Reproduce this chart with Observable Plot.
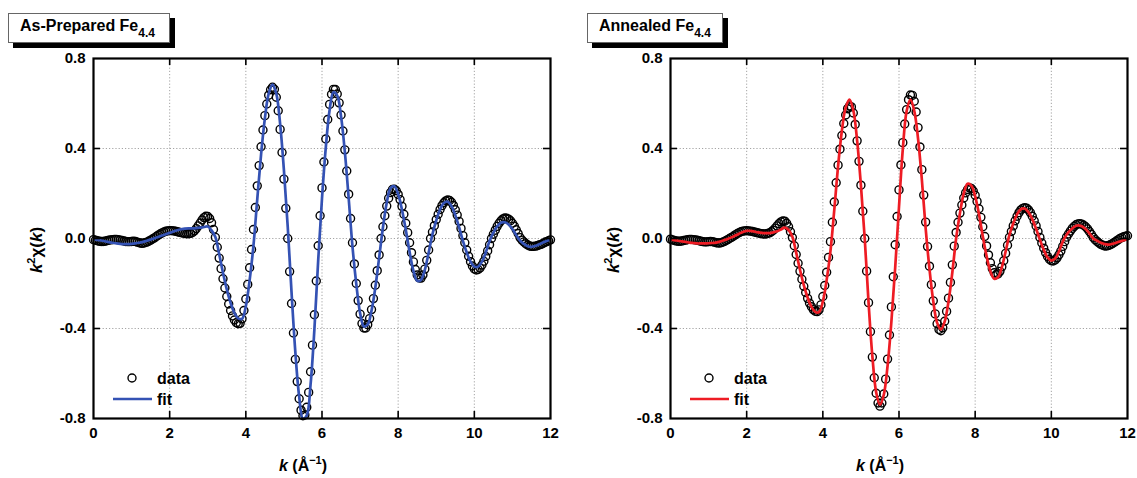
<!DOCTYPE html>
<html>
<head>
<meta charset="utf-8">
<script src="https://cdn.jsdelivr.net/npm/d3@7"></script>
<script src="https://cdn.jsdelivr.net/npm/@observablehq/plot@0.6"></script>
<style>
  body { margin: 0; background: #fff; }
  #fig { position: relative; width: 1137px; height: 478px; overflow: hidden; background: #fff;
         font-family: "Liberation Sans", Arial, sans-serif; font-weight: bold; color: #000; }
  .panel { position: absolute; top: 0; }
  .title { position: absolute; top: 13px; height: 30px; box-sizing: border-box; border: 1px solid #666;
           background: #fff; box-shadow: 5px 5px 0 #000; font-size: 16px; line-height: 24px; padding-left: 11px;
           white-space: nowrap; }
  .title sub { font-size: 12px; vertical-align: -6px; line-height: 0; }
  .ylab { position: absolute; font-size: 17px; white-space: nowrap; line-height: 17px;
          transform: translate(-50%, -50%) rotate(-90deg); }
  .ylab sup, .xlab sup { font-size: 11px; vertical-align: 7px; line-height: 0; }
  .xlab { position: absolute; top: 458px; font-size: 16px; line-height: 16px; white-space: nowrap;
          transform: translateX(-50%); }
  svg.overlay { position: absolute; left: 0; top: 0; }
</style>
</head>
<body>
<div id="fig"></div>
<script>
// ---------------- data ----------------
const panelTitles = ["As-Prepared Fe", "Annealed Fe"];
const titleSub = "4.4";
const legendLabels = ["data", "fit"];
const xTicks = [0, 2, 4, 6, 8, 10, 12];
const yTicks = [-0.8, -0.4, 0.0, 0.4, 0.8];
const xInner = [2, 4, 6, 8, 10];
const yInner = [-0.4, 0.0, 0.4];
const dataStep = 0.05;   // k-grid of the measured points (Å^-1)
const fitStep = 0.1;     // k-grid of the fit curve (Å^-1)

// As-prepared: measured k^2 chi(k), k = 0 ... 12 step 0.05
const prepData = [
  -0.005,-0.008,-0.010,-0.012,-0.013,-0.013,-0.012,-0.010,-0.008,-0.006,-0.005,-0.004,-0.004,-0.005,-0.007,-0.009,-0.011,-0.013,-0.014,-0.014,
  -0.013,-0.012,-0.013,-0.016,-0.019,-0.021,-0.021,-0.019,-0.016,-0.012,-0.007,-0.002,0.003,0.009,0.015,0.020,0.025,0.029,0.032,0.034,
  0.035,0.035,0.034,0.032,0.030,0.028,0.026,0.024,0.022,0.021,0.021,0.023,0.027,0.034,0.044,0.056,0.069,0.082,0.093,0.099,
  0.098,0.089,0.070,0.040,0.005,-0.039,-0.087,-0.134,-0.179,-0.220,-0.258,-0.291,-0.320,-0.344,-0.362,-0.374,-0.379,-0.377,-0.357,-0.320,
  -0.269,-0.204,-0.130,-0.049,0.040,0.138,0.234,0.324,0.408,0.482,0.546,0.598,0.637,0.661,0.672,0.663,0.628,0.568,0.485,0.382,
  0.264,0.134,0.000,-0.147,-0.289,-0.420,-0.537,-0.636,-0.712,-0.763,-0.788,-0.784,-0.750,-0.684,-0.592,-0.474,-0.339,-0.189,-0.032,0.101,
  0.225,0.340,0.442,0.529,0.596,0.641,0.663,0.662,0.642,0.603,0.549,0.478,0.394,0.300,0.197,0.089,-0.019,-0.113,-0.200,-0.276,
  -0.336,-0.378,-0.398,-0.398,-0.383,-0.356,-0.316,-0.267,-0.208,-0.143,-0.073,0.000,0.052,0.101,0.144,0.179,0.204,0.218,0.219,0.212,
  0.196,0.173,0.143,0.108,0.068,0.026,-0.019,-0.063,-0.104,-0.138,-0.162,-0.175,-0.176,-0.162,-0.136,-0.097,-0.051,0.000,0.029,0.057,
  0.084,0.108,0.129,0.146,0.159,0.167,0.171,0.169,0.161,0.147,0.128,0.104,0.076,0.045,0.013,-0.019,-0.051,-0.079,-0.103,-0.122,
  -0.135,-0.140,-0.138,-0.131,-0.118,-0.101,-0.080,-0.055,-0.028,0.000,0.019,0.037,0.054,0.068,0.079,0.087,0.091,0.090,0.086,0.079,
  0.068,0.055,0.039,0.022,0.004,-0.007,-0.015,-0.023,-0.029,-0.033,-0.035,-0.035,-0.034,-0.032,-0.029,-0.026,-0.022,-0.018,-0.014,-0.010,
  -0.006
];
// As-prepared: fit, k = 0 ... 12 step 0.1
const prepFit = [
  -0.003,-0.006,-0.009,-0.012,-0.016,-0.019,-0.022,-0.024,-0.025,-0.025,
  -0.024,-0.022,-0.019,-0.015,-0.010,-0.005,0.001,0.007,0.013,0.019,
  0.025,0.031,0.037,0.041,0.044,0.045,0.045,0.046,0.048,0.051,
  0.053,0.036,0.007,-0.069,-0.152,-0.226,-0.286,-0.331,-0.355,-0.357,
  -0.301,-0.185,-0.032,0.174,0.373,0.534,0.644,0.684,0.644,0.511,
  0.304,0.053,-0.238,-0.505,-0.701,-0.801,-0.786,-0.648,-0.405,-0.097,
  0.178,0.405,0.571,0.650,0.635,0.543,0.385,0.180,-0.035,-0.202,
  -0.331,-0.391,-0.382,-0.321,-0.218,-0.086,0.049,0.159,0.224,0.232,
  0.197,0.128,0.039,-0.059,-0.143,-0.188,-0.184,-0.139,-0.063,0.019,
  0.080,0.129,0.158,0.163,0.144,0.104,0.050,-0.011,-0.062,-0.103,
  -0.125,-0.125,-0.103,-0.062,-0.011,0.026,0.054,0.070,0.072,0.062,
  0.042,0.015,-0.009,-0.024,-0.034,-0.037,-0.033,-0.026,-0.018,-0.011,
  -0.005
];
// Annealed: measured k^2 chi(k), k = 0 ... 12 step 0.05
const annData = [
  -0.003,-0.006,-0.009,-0.011,-0.012,-0.012,-0.011,-0.009,-0.007,-0.005,-0.004,-0.004,-0.005,-0.006,-0.008,-0.010,-0.012,-0.014,-0.015,-0.015,
  -0.014,-0.013,-0.014,-0.016,-0.019,-0.020,-0.020,-0.018,-0.014,-0.010,-0.005,0.000,0.005,0.010,0.016,0.021,0.026,0.030,0.033,0.034,
  0.035,0.034,0.033,0.031,0.029,0.027,0.025,0.023,0.021,0.020,0.020,0.022,0.025,0.030,0.037,0.046,0.056,0.066,0.074,0.078,
  0.077,0.068,0.052,0.030,0.004,-0.032,-0.071,-0.110,-0.146,-0.181,-0.212,-0.240,-0.266,-0.287,-0.303,-0.316,-0.323,-0.325,-0.317,-0.295,
  -0.258,-0.209,-0.150,-0.084,-0.014,0.072,0.162,0.248,0.326,0.397,0.458,0.511,0.549,0.577,0.589,0.585,0.558,0.507,0.434,0.343,
  0.237,0.121,0.000,-0.145,-0.285,-0.414,-0.527,-0.619,-0.688,-0.731,-0.745,-0.731,-0.691,-0.625,-0.536,-0.429,-0.304,-0.170,-0.028,0.098,
  0.216,0.327,0.426,0.509,0.573,0.617,0.638,0.636,0.610,0.562,0.493,0.407,0.306,0.193,0.073,-0.036,-0.123,-0.205,-0.277,-0.335,
  -0.379,-0.404,-0.410,-0.397,-0.368,-0.324,-0.265,-0.195,-0.117,-0.034,0.027,0.072,0.113,0.149,0.180,0.203,0.218,0.225,0.222,0.211,
  0.192,0.165,0.132,0.094,0.052,0.009,-0.033,-0.073,-0.108,-0.134,-0.152,-0.160,-0.157,-0.146,-0.126,-0.099,-0.066,-0.030,0.005,0.031,
  0.056,0.079,0.099,0.115,0.127,0.134,0.137,0.135,0.127,0.115,0.099,0.079,0.056,0.031,0.005,-0.020,-0.043,-0.063,-0.080,-0.092,
  -0.099,-0.100,-0.095,-0.086,-0.072,-0.056,-0.035,-0.014,0.006,0.020,0.033,0.045,0.054,0.061,0.065,0.066,0.064,0.059,0.052,0.043,
  0.031,0.019,0.005,-0.005,-0.013,-0.020,-0.026,-0.030,-0.033,-0.033,-0.031,-0.028,-0.023,-0.018,-0.012,-0.006,0.000,0.004,0.008,0.010,
  0.012
];
// Annealed: fit, k = 0 ... 12 step 0.1
const annFit = [
  -0.005,-0.007,-0.010,-0.013,-0.015,-0.018,-0.020,-0.022,-0.022,-0.022,
  -0.021,-0.020,-0.018,-0.014,-0.008,-0.002,0.005,0.013,0.021,0.029,
  0.034,0.034,0.031,0.027,0.025,0.024,0.024,0.027,0.032,0.040,
  0.048,0.038,0.008,-0.063,-0.139,-0.207,-0.262,-0.303,-0.326,-0.327,
  -0.281,-0.185,-0.056,0.126,0.321,0.479,0.582,0.617,0.570,0.436,
  0.236,0.000,-0.283,-0.522,-0.683,-0.739,-0.695,-0.566,-0.370,-0.129,
  0.141,0.397,0.566,0.617,0.568,0.444,0.262,0.045,-0.135,-0.279,
  -0.374,-0.404,-0.369,-0.280,-0.151,0.000,0.112,0.200,0.243,0.235,
  0.187,0.108,0.010,-0.078,-0.146,-0.179,-0.172,-0.128,-0.058,0.016,
  0.067,0.107,0.130,0.133,0.117,0.086,0.043,-0.005,-0.050,-0.084,
  -0.098,-0.089,-0.058,-0.014,0.017,0.037,0.052,0.058,0.054,0.042,
  0.023,0.000,-0.010,-0.019,-0.025,-0.027,-0.024,-0.019,-0.013,-0.008,
  -0.003
];
const fitColors = ["#3452b4", "#ee1c24"];

// ---------------- layout ----------------
const H = 478, MT = 58, MB = 60;
const panels = [
  {left: 0,   width: 568, ml: 93,  mr: 18, data: prepData, fit: prepFit, color: fitColors[0], title: panelTitles[0], box: [8, 162]},
  {left: 568, width: 569, ml: 102, mr: 10, data: annData,  fit: annFit,  color: fitColors[1], title: panelTitles[1], box: [587, 136]}
];
const fig = document.getElementById("fig");
const FONT = '"Liberation Sans", Arial, sans-serif';
const DOT_R = 4.0, DOT_W = 1.4;

const toRows = (arr, step) => arr.map((v, i) => ({k: +(i * step).toFixed(2), v}));

panels.forEach(p => {
  const innerW = p.width - p.ml - p.mr;
  const innerH = H - MT - MB;
  const tickStyle = {stroke: "#000", strokeWidth: 1.6};
  const chart = Plot.plot({
    width: p.width, height: H,
    marginLeft: p.ml, marginRight: p.mr, marginTop: MT, marginBottom: MB,
    x: {domain: [0, 12]},
    y: {domain: [-0.8, 0.8]},
    style: {fontFamily: FONT, fontSize: "15px", fontWeight: "bold", color: "#000", background: "transparent", overflow: "visible"},
    marks: [
      Plot.gridX(xInner, {stroke: "#9a9a9a", strokeOpacity: 1, strokeWidth: 0.9, strokeDasharray: "1.2,2"}),
      Plot.gridY(yInner, {stroke: "#9a9a9a", strokeOpacity: 1, strokeWidth: 0.9, strokeDasharray: "1.2,2"}),
      Plot.dot(toRows(p.data, dataStep), {x: "k", y: "v", r: DOT_R, stroke: "#000", strokeWidth: DOT_W, fill: "none"}),
      Plot.line(toRows(p.fit, fitStep), {x: "k", y: "v", stroke: p.color, strokeWidth: 2.7, curve: "catmull-rom", clip: true}),
      Plot.tickY(yInner, {y: d => d, insetRight: innerW - 7, ...tickStyle}),
      Plot.tickY(yInner, {y: d => d, insetLeft: innerW - 7, ...tickStyle}),
      Plot.tickX(xInner, {x: d => d, insetTop: innerH - 7, ...tickStyle}),
      Plot.tickX(xInner, {x: d => d, insetBottom: innerH - 7, ...tickStyle}),
      Plot.frame({stroke: "#000", strokeWidth: 2.2}),
      Plot.axisX({ticks: xTicks, tickSize: 0, tickPadding: 9, tickFormat: d => String(d), label: null}),
      Plot.axisY({ticks: yTicks, tickSize: 0, tickPadding: 8, tickFormat: d => d.toFixed(1), label: null})
    ]
  });
  chart.classList.add("panel");
  chart.style.left = p.left + "px";
  fig.appendChild(chart);

  const frameX = p.left + p.ml;

  // title box
  const t = document.createElement("div");
  t.className = "title";
  t.style.left = p.box[0] + "px";
  t.style.width = p.box[1] + "px";
  t.append(p.title);
  const sub = document.createElement("sub");
  sub.textContent = titleSub;
  t.appendChild(sub);
  fig.appendChild(t);

  // y label
  const yl = document.createElement("div");
  yl.className = "ylab";
  yl.style.left = (frameX - 57) + "px";
  yl.style.top = "250px";
  yl.innerHTML = '<i>k</i><sup>2</sup>χ(<i>k</i>)';
  fig.appendChild(yl);

  // x label
  const xl = document.createElement("div");
  xl.className = "xlab";
  xl.style.left = (frameX + 210) + "px";
  xl.innerHTML = '<i>k</i> (Å<sup>−1</sup>)';
  fig.appendChild(xl);

  // legend
  const ns = "http://www.w3.org/2000/svg";
  const lg = document.createElementNS(ns, "svg");
  lg.setAttribute("class", "overlay");
  lg.setAttribute("width", 1137);
  lg.setAttribute("height", H);
  const c = document.createElementNS(ns, "circle");
  c.setAttribute("cx", frameX + 39); c.setAttribute("cy", 378); c.setAttribute("r", DOT_R);
  c.setAttribute("fill", "none"); c.setAttribute("stroke", "#000"); c.setAttribute("stroke-width", DOT_W);
  lg.appendChild(c);
  const ln = document.createElementNS(ns, "line");
  ln.setAttribute("x1", frameX + 20); ln.setAttribute("x2", frameX + 59);
  ln.setAttribute("y1", 399); ln.setAttribute("y2", 399);
  ln.setAttribute("stroke", p.color); ln.setAttribute("stroke-width", 2.7);
  lg.appendChild(ln);
  legendLabels.forEach((lab, i) => {
    const tx = document.createElementNS(ns, "text");
    tx.setAttribute("x", frameX + 64);
    tx.setAttribute("y", 378 + i * 21);
    tx.setAttribute("dy", "0.36em");
    tx.setAttribute("font-family", FONT);
    tx.setAttribute("font-weight", "bold");
    tx.setAttribute("font-size", 16);
    tx.textContent = lab;
    lg.appendChild(tx);
  });
  fig.appendChild(lg);
});
</script>
</body>
</html>
